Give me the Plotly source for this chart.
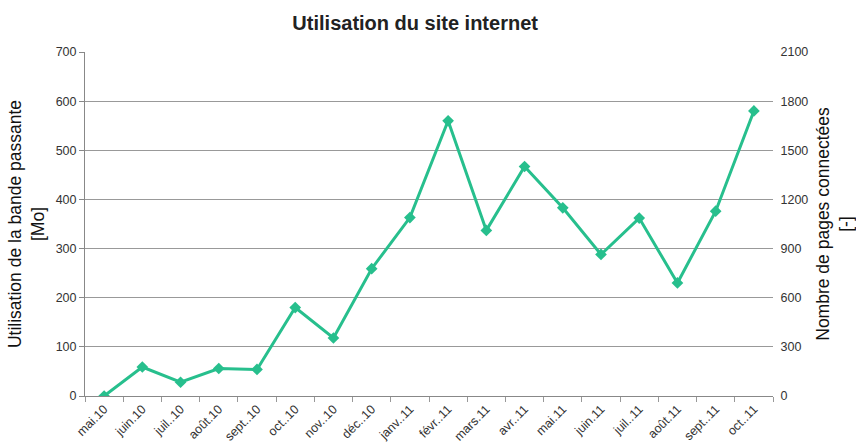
import plotly.graph_objects as go

months = ["mai.10", "juin.10", "juil..10", "août.10", "sept..10", "oct..10", "nov..10",
          "déc..10", "janv..11", "févr..11", "mars.11", "avr..11", "mai.11", "juin.11",
          "juil..11", "août.11", "sept..11", "oct..11"]
bandwidth_mo = [0, 59, 28, 56, 54, 180, 118, 259, 363, 560, 337, 467, 383, 288, 362, 230, 376, 580]

left_ticks = [0, 100, 200, 300, 400, 500, 600, 700]
right_ticks = [0, 300, 600, 900, 1200, 1500, 1800, 2100]

color = "#27bf8d"
font = "Liberation Sans, Arial, sans-serif"

fig = go.Figure()
fig.add_trace(go.Scatter(
    x=months, y=bandwidth_mo, mode="lines+markers",
    line=dict(color=color, width=3),
    marker=dict(symbol="diamond", size=9, color=color),
    showlegend=False,
))
# empty trace bound to the right axis so that it is drawn
fig.add_trace(go.Scatter(
    x=months, y=[None] * len(months), yaxis="y2", mode="lines",
    showlegend=False, hoverinfo="skip",
))

fig.update_layout(
    width=856, height=446,
    margin=dict(l=85, r=83, t=52, b=50),
    paper_bgcolor="white", plot_bgcolor="white",
    font=dict(family=font, color="#333"),
    title=dict(text="<b>Utilisation du site internet</b>", x=0.485, xanchor="center",
               y=0.948, yanchor="middle", font=dict(size=20, color="#222", family=font)),
    xaxis=dict(
        type="category", range=[-0.5, 17.5], automargin=False,
        tickangle=-45, tickfont=dict(size=12.5, color="#333"),
        showline=True, linecolor="#888", linewidth=1,
        ticks="outside", tickson="boundaries", ticklen=5, tickcolor="#999",
        showgrid=False,
    ),
    yaxis=dict(
        range=[0, 700], tickvals=left_ticks, automargin=False,
        tickfont=dict(size=12.5, color="#333"),
        showline=True, linecolor="#888", linewidth=1,
        ticks="outside", ticklen=5, tickcolor="#888",
        showgrid=True, gridcolor="#999", gridwidth=1,
        zeroline=False,
        title=dict(text="Utilisation de la bande passante<br>[Mo]",
                   font=dict(size=17.5, color="#111"), standoff=6),
    ),
    yaxis2=dict(
        overlaying="y", side="right", automargin=False,
        range=[0, 2100], tickvals=right_ticks,
        tickfont=dict(size=12.5, color="#333"),
        showline=False, showgrid=False, zeroline=False,
        ticks="outside", ticklen=4, tickcolor="rgba(0,0,0,0)",
        title=dict(text="Nombre de pages connectées<br>[-]",
                   font=dict(size=17.5, color="#111"), standoff=10),
    ),
)

fig.write_html("out.html", config={"displayModeBar": False},
               post_script="document.body.style.margin='0';")
